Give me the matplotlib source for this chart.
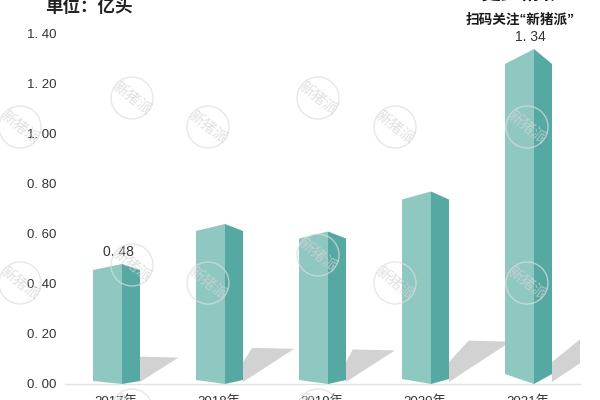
"""Pig output bars with fake 3D faces, shadows and the watermark stamps."""

import matplotlib.pyplot as plt
from matplotlib.patches import Circle, Polygon

plt.rcParams["font.family"] = ["Liberation Sans", "Noto Sans CJK SC", "DejaVu Sans"]

years = ["2017年", "2018年", "2019年", "2020年", "2021年"]
values = [0.48, 0.64, 0.61, 0.77, 1.34]
labelled = {0: "0. 48", 4: "1. 34"}
y_ticks = [0.0, 0.2, 0.4, 0.6, 0.8, 1.0, 1.2, 1.4]
y_tick_labels = ["0. 00", "0. 20", "0. 40", "0. 60", "0. 80", "1. 00", "1. 20", "1. 40"]

# watermark stamp centres, in figure pixels from the top left
stamps = [
    (20, 127), (132, 98), (208, 127), (318, 98), (395, 127), (527, 127),
    (20, 283), (132, 265), (208, 283), (318, 255), (395, 283), (527, 283),
    (132, 410), (318, 410),
]

FRONT = "#8fc8c1"
SIDE = "#56a9a2"
SHADOW = "#d2d2d2"
TEXT = "#333333"

# one pixel expressed in data units
PX_X = 1 / 103
PX_Y = 1 / 250

# perspective gets stronger to the right, in pixels per bar
SHOULDERS = [6, 7, 7, 8, 15]
FEET = [3, 4, 4, 5, 10]


def draw_bar(ax, i, value):
    left = i - 23 * PX_X
    spine = i + 6 * PX_X
    right = i + 24 * PX_X
    shoulder = SHOULDERS[i] * PX_Y
    foot = FEET[i] * PX_Y

    dx = 80 * value * PX_X
    dy = 55 * value * PX_Y
    shadow = [
        (right, 2 * PX_Y),
        (right + dx, dy),
        (right + dx - 42 * PX_X, dy + PX_Y),
        (right, 22 * PX_Y),
    ]
    ax.add_patch(Polygon(shadow, closed=True, fc=SHADOW, ec="none", zorder=1))

    front = [(left, foot), (spine, 0), (spine, value), (left, value - shoulder)]
    side = [(spine, 0), (right, foot), (right, value - shoulder), (spine, value)]
    ax.add_patch(Polygon(front, closed=True, fc=FRONT, ec="none", zorder=3, clip_on=False))
    ax.add_patch(Polygon(side, closed=True, fc=SIDE, ec="none", zorder=3, clip_on=False))


def draw_stamp(fig, x, y):
    cx, cy = x / 600, 1 - y / 400
    fig.add_artist(Circle((x, 400 - y), 21, transform=None, fc="none", ec="#dddddd",
                          lw=1.0, alpha=0.7, zorder=5))
    fig.text(cx, cy, "新猪派", fontsize=10.5, color="#d4d4d4", rotation=-38, alpha=0.7,
             ha="center", va="center", zorder=5)


def main():
    fig = plt.figure(figsize=(6, 4), dpi=100)
    ax = fig.add_axes([64.5 / 600, 16 / 400, 515 / 600, 350 / 400])

    for i, value in enumerate(values):
        draw_bar(ax, i, value)

    for i, label in labelled.items():
        ax.text(i + 2 * PX_X, values[i] + 0.02, label, ha="center", va="bottom",
                fontsize=10, color=TEXT, zorder=6)

    ax.set_xlim(-0.5, 4.5)
    ax.set_ylim(0, 1.4)
    ax.set_xticks(range(len(years)), years)
    ax.set_yticks(y_ticks, y_tick_labels)
    ax.tick_params(length=0, labelsize=9.5, labelcolor=TEXT)
    ax.tick_params(axis="x", pad=8)
    ax.tick_params(axis="y", pad=5.5)
    for name in ["top", "right", "left"]:
        ax.spines[name].set_visible(False)
    ax.spines["bottom"].set_color("#e3e3e3")
    ax.spines["bottom"].set_linewidth(1.0)

    for x, y in stamps:
        draw_stamp(fig, x, y)

    fig.text(45 / 600, 1 - 6 / 400, "单位：亿头", fontsize=12.6, fontweight="bold",
             color="#222222", va="center", ha="left")
    fig.text(520 / 600, 1 - 20 / 400, "扫码关注“新猪派”", fontsize=9.8, fontweight="bold",
             color="#1a1a1a", va="center", ha="center", zorder=7,
             bbox=dict(fc="white", ec="none", pad=2))
    fig.text(520 / 600, 1 + 7 / 400, "更多精彩", fontsize=14.4, fontweight="bold",
             color="#111111", va="center", ha="center", zorder=7)

    fig.savefig("out.png", dpi=100)


if __name__ == "__main__":
    main()
